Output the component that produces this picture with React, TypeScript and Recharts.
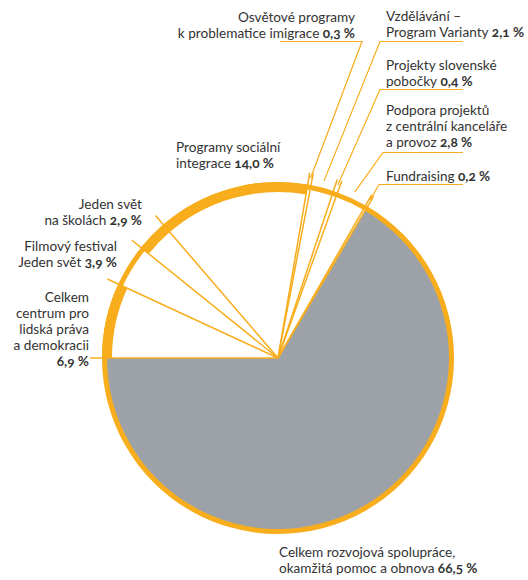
import React from "react";
import { Cell, Pie, PieChart } from "recharts";

// data (clockwise from 9 o'clock)
const categories = [
  "Celkem\ncentrum pro\nlidská práva\na demokracii\n",
  "Filmový festival\nJeden svět",
  "Jeden svět\nna školách",
  "Programy sociální\nintegrace",
  "Osvětové programy\nk problematice imigrace",
  "Vzdělávání –\nProgram Varianty",
  "Projekty slovenské\npobočky",
  "Podpora projektů\nz centrální kanceláře\na provoz",
  "Fundraising",
  "Celkem rozvojová spolupráce,\nokamžitá pomoc a obnova",
];
const shares = [6.9, 3.9, 2.9, 14.0, 0.3, 2.1, 0.4, 2.8, 0.2, 66.5];

const chartData = categories.map((name, i) => ({ name, value: shares[i] }));

// styling
const ORANGE = "#f8ad1c";
const GREY = "#9ca2a7";
const TEXT = "#333333";
const thickRing = [0, 2, 3];
const CX = 278;
const CY = 358;
const R = 176;

// label layout: first baseline, anchor, optional leader [x, y, underline end x]
type LabelPos = {
  x: number;
  y: number;
  anchor: "start" | "end";
  leader?: [number, number, number];
};
const labelPos: LabelPos[] = [
  { x: 89, y: 302, anchor: "end" },
  { x: 117, y: 251, anchor: "end" },
  { x: 142, y: 209, anchor: "end" },
  { x: 176, y: 152, anchor: "start" },
  { x: 355, y: 22, anchor: "end", leader: [362, 41.5, 280] },
  { x: 386, y: 21, anchor: "start", leader: [380, 41.5, 463] },
  { x: 386, y: 70, anchor: "start", leader: [380, 89.5, 463] },
  { x: 386, y: 115, anchor: "start", leader: [383, 152.5, 463] },
  { x: 386, y: 181, anchor: "start", leader: [379, 184.5, 463] },
  { x: 279, y: 557, anchor: "start" },
];

const RAD = Math.PI / 180;
const polar = (cx: number, cy: number, r: number, a: number) => ({
  x: cx + r * Math.cos(-a * RAD),
  y: cy + r * Math.sin(-a * RAD),
});

const fmt = (v: number) => `${v.toFixed(1).replace(".", ",")} %`;

function renderLabel(props: any) {
  const { cx, cy, startAngle, midAngle, index, value } = props;
  const pos = labelPos[index];
  const lines = categories[index].split("\n");
  const edge = polar(cx, cy, 188, startAngle);
  let leader = null;
  if (pos.leader) {
    const [lx, ly, ux] = pos.leader;
    const p = polar(cx, cy, 183, midAngle);
    leader = (
      <polyline
        points={`${p.x},${p.y} ${lx},${ly} ${ux},${ly}`}
        fill="none"
        stroke={ORANGE}
        strokeWidth={1.2}
      />
    );
  }
  return (
    <g key={`lbl-${index}`}>
      <line x1={cx} y1={cy} x2={edge.x} y2={edge.y} stroke={ORANGE} strokeWidth={1.5} />
      {leader}
      {lines.map((ln, j) => (
        <text
          key={j}
          x={pos.x}
          y={pos.y + j * 16}
          textAnchor={pos.anchor}
          fill={TEXT}
          fontSize={13.6}
          fontFamily="Lato, 'Open Sans', sans-serif"
        >
          {ln}
          {j === lines.length - 1 && (
            <tspan fontWeight={700} style={{ fontVariantNumeric: "oldstyle-nums" }}>
              {ln ? " " : ""}
              {fmt(value)}
            </tspan>
          )}
        </text>
      ))}
    </g>
  );
}

export default function App() {
  return (
    <div style={{ position: "absolute", left: 0, top: 0, width: 528, height: 580, background: "#fff" }}>
      <PieChart width={528} height={580} margin={{ top: 0, right: 0, bottom: 0, left: 0 }}>
        <Pie
          data={chartData}
          dataKey="value"
          cx={CX}
          cy={CY}
          innerRadius={0}
          outerRadius={R}
          startAngle={180}
          endAngle={-180}
          fill={ORANGE}
          stroke="none"
          isAnimationActive={false}
        />
        <Pie
          data={chartData}
          dataKey="value"
          cx={CX}
          cy={CY}
          innerRadius={0}
          outerRadius={R - 5}
          startAngle={180}
          endAngle={-180}
          stroke="none"
          isAnimationActive={false}
        >
          {chartData.map((d, i) => (
            <Cell key={d.name} fill={i === chartData.length - 1 ? GREY : "#ffffff"} />
          ))}
        </Pie>
        <Pie
          data={chartData}
          dataKey="value"
          cx={CX}
          cy={CY}
          innerRadius={R - 10}
          outerRadius={R}
          startAngle={180}
          endAngle={-180}
          stroke="none"
          label={renderLabel}
          labelLine={false}
          isAnimationActive={false}
        >
          {chartData.map((d, i) => (
            <Cell key={d.name} fill={thickRing.includes(i) ? ORANGE : "none"} />
          ))}
        </Pie>
      </PieChart>
    </div>
  );
}
